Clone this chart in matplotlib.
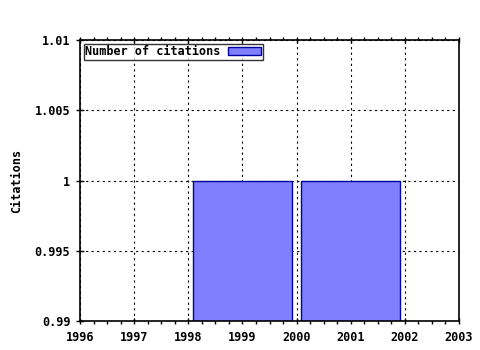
import matplotlib
matplotlib.use("Agg")
import matplotlib.pyplot as plt
from matplotlib.ticker import FixedLocator, FixedFormatter, MultipleLocator

years = [1999, 2001]
citations = [1, 1]
x_ticks = [1996, 1997, 1998, 1999, 2000, 2001, 2002, 2003]
y_ticks = [0.99, 0.995, 1.0, 1.005, 1.01]
y_labels = ["0.99", "0.995", "1", "1.005", "1.01"]

plt.rcParams['font.family'] = ['DejaVu Sans Mono']
plt.rcParams['font.weight'] = 'bold'

fig = plt.figure(figsize=(4.8, 3.5), dpi=100)
ax = fig.add_axes([80/480, 1-321/350, (459-80)/480, (321-40)/350])

ax.bar(years, citations, width=1.82, color='#8080ff', edgecolor='#0000a0',
       linewidth=1, label='Number of citations', zorder=3, bottom=0)

ax.set_xlim(1996, 2003)
ax.set_ylim(0.99, 1.01)
ax.xaxis.set_major_locator(FixedLocator(x_ticks))
ax.set_xticklabels([str(v) for v in x_ticks])
ax.xaxis.set_minor_locator(MultipleLocator(0.25))
ax.yaxis.set_major_locator(FixedLocator(y_ticks))
ax.yaxis.set_major_formatter(FixedFormatter(y_labels))

ax.tick_params(axis='x', which='major', direction='inout', length=5, width=1,
               labelsize=8.5, top=True, bottom=True, pad=5)
ax.tick_params(axis='x', which='minor', direction='out', length=2.5, width=1,
               top=True, bottom=True)
ax.tick_params(axis='y', which='major', direction='inout', length=6, width=1,
               labelsize=8.5, left=True, right=False, pad=4)
for lbl in ax.get_xticklabels() + ax.get_yticklabels():
    lbl.set_fontweight('bold')

ax.grid(True, which='major', color='black', linestyle=(0, (2, 3)), linewidth=0.8, zorder=1)
ax.set_axisbelow(False)
for s in ax.spines.values():
    s.set_linewidth(1.2)
    s.set_zorder(4)

ax.set_ylabel('Citations', fontsize=8.5, fontweight='bold', labelpad=8)

leg = ax.legend(loc='upper left', markerfirst=False, frameon=True,
                fancybox=False, borderaxespad=0.3, borderpad=0.15, handlelength=2.8,
                handleheight=0.6, handletextpad=0.6, prop={'weight': 'bold', 'size': 8.5})
leg.get_frame().set_edgecolor('black')
leg.get_frame().set_linewidth(1)
leg.set_zorder(5)

fig.savefig('out.png', dpi=100)
